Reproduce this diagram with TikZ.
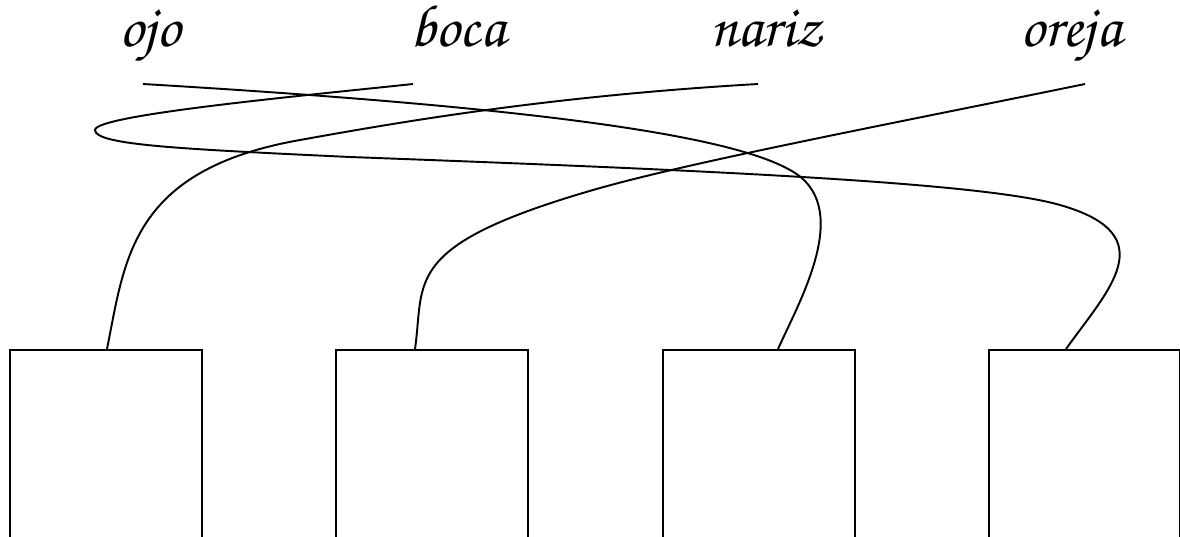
\documentclass[tikz,border=0pt]{standalone}
\usepackage[T1]{fontenc}
\usetikzlibrary{calc}
\IfFileExists{t1pzc.fd}{%
  \newcommand\cursivefont{\fontfamily{pzc}\fontseries{mb}\fontshape{it}\selectfont}}{%
  \IfFileExists{t1qzc.fd}{%
    \newcommand\cursivefont{\fontfamily{qzc}\fontseries{m}\fontshape{it}\selectfont}}{%
    \newcommand\cursivefont{\itshape}}}
\begin{document}
\begin{tikzpicture}[x=0.02cm,y=-0.02cm,line width=1.1pt,
  word/.style={font=\cursivefont\fontsize{34}{34}\selectfont,anchor=base,inner sep=0pt},
  answerbox/.style={draw,line width=1.1pt,anchor=north west,inner sep=0pt,minimum width=3.84cm,minimum height=4.6cm},
  link/.style={line width=1.1pt}]
\useasboundingbox (0,0) rectangle (1180,537);
% words
\node[word] (ojo)   at (150,47)  {ojo};
\node[word] (boca)  at (458,47)  {boca};
\node[word] (nariz) at (766,47)  {nariz};
\node[word] (oreja) at (1071,47) {oreja};
% start points of the lines
\coordinate (s1) at (143,84);
\coordinate (s2) at (413,84);
\coordinate (s3) at (758,84);
\coordinate (s4) at (1085,84);
% boxes
\node[answerbox] (b1) at (9,349) {};
\node[answerbox] (b2) at (335,349) {};
\node[answerbox] (b3) at (662,349) {};
\node[answerbox,minimum width=3.82cm] (b4) at (988,349) {};
% end points on the boxes
\coordinate (e1) at ($(b1.north west)+(98,0)$);
\coordinate (e2) at ($(b2.north west)+(80,0)$);
\coordinate (e3) at ($(b3.north west)+(116,0)$);
\coordinate (e4) at ($(b4.north west)+(78,0)$);
% ojo -> box 3
\draw[link] (s1) .. controls (480,104) and (720,130) .. (790,170)
  .. controls (855,205) and (800,300) .. (e3);
% boca -> box 4
\draw[link] (s2) .. controls (300,96) and (95,115) .. (95,130)
  .. controls (95,145) and (180,149) .. (350,157)
  .. controls (700,170) and (980,182) .. (1060,205)
  .. controls (1165,235) and (1108,290) .. (e4);
% nariz -> box 1
\draw[link] (s3) .. controls (550,96) and (400,122) .. (300,140)
  .. controls (130,170) and (125,260) .. (e1);
% oreja -> box 2
\draw[link] (s4) .. controls (900,122) and (700,160) .. (600,188)
  .. controls (400,245) and (425,280) .. (e2);
\end{tikzpicture}
\end{document}
